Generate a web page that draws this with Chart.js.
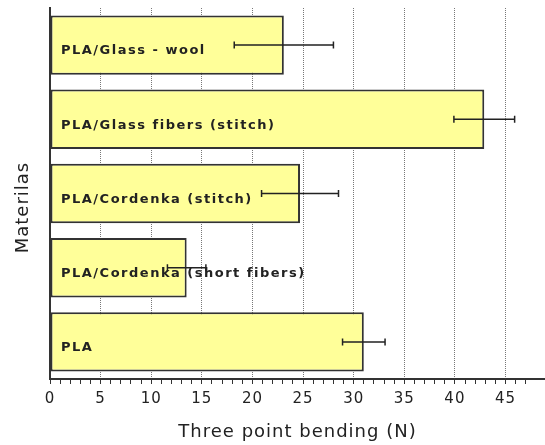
<!DOCTYPE html>
<html>
<head>
<meta charset="utf-8">
<script src="https://cdn.jsdelivr.net/npm/chart.js@4.4.0/dist/chart.umd.min.js"></script>
<style>
  html, body { margin: 0; padding: 0; background: #fff; }
  #wrap { width: 545px; height: 445px; }
</style>
</head>
<body>
<div id="wrap"><canvas id="c"></canvas></div>
<script>
// Datos
const materials = ['PLA/Glass - wool', 'PLA/Glass fibers (stitch)', 'PLA/Cordenka (stitch)', 'PLA/Cordenka (short fibers)', 'PLA'];
const bending = [23.1, 42.9, 24.7, 13.5, 31.0];
const errors  = [4.9, 3.0, 3.8, 1.9, 2.1];
const xMax = 48.9;

const INK = '#222';
const FONT = '"DejaVu Sans", Verdana, sans-serif';

// Barras de error + etiquetas dentro de las barras
const barExtras = {
  id: 'barExtras',
  beforeDraw(chart) { chart.ctx.letterSpacing = '1px'; },
  afterDatasetsDraw(chart) {
    const { ctx, scales: { x } } = chart;
    const bars = chart.getDatasetMeta(0).data;
    ctx.save();
    ctx.strokeStyle = INK;
    ctx.lineWidth = 1.5;
    bars.forEach((bar, i) => {
      const x0 = x.getPixelForValue(bending[i] - errors[i]);
      const x1 = x.getPixelForValue(bending[i] + errors[i]);
      const y = bar.y;
      ctx.beginPath();
      ctx.moveTo(x0, y); ctx.lineTo(x1, y);
      ctx.moveTo(x0, y - 3.5); ctx.lineTo(x0, y + 3.5);
      ctx.moveTo(x1, y - 3.5); ctx.lineTo(x1, y + 3.5);
      ctx.stroke();
    });
    ctx.font = 'bold 13px ' + FONT;
    ctx.letterSpacing = '1.5px';
    ctx.fillStyle = INK;
    ctx.textBaseline = 'middle';
    ctx.textAlign = 'left';
    bars.forEach((bar, i) => ctx.fillText(materials[i], x.left + 11, bar.y + 6));
    ctx.restore();
  },
  afterDraw(chart) {
    // título del eje Y, algo por debajo del centro como en el original
    const { ctx, chartArea } = chart;
    ctx.save();
    ctx.translate(23, (chartArea.top + chartArea.bottom) / 2 + 14);
    ctx.rotate(-Math.PI / 2);
    ctx.font = '18px ' + FONT;
    ctx.fillStyle = INK;
    ctx.textAlign = 'center';
    ctx.textBaseline = 'middle';
    ctx.fillText('Materilas', 0, 0);
    ctx.restore();
  }
};

new Chart(document.getElementById('c'), {
  type: 'bar',
  data: {
    labels: materials,
    datasets: [{
      data: bending,
      backgroundColor: '#ffff99',
      borderColor: '#333',
      borderWidth: 2,
      borderSkipped: false,
      barPercentage: 0.8,
      categoryPercentage: 1.0
    }]
  },
  options: {
    indexAxis: 'y',
    responsive: true,
    maintainAspectRatio: false,
    animation: false,
    layout: { padding: { top: 8, right: 0, left: 0, bottom: 0 } },
    plugins: { legend: { display: false }, tooltip: { enabled: false } },
    scales: {
      x: {
        min: 0, max: xMax,
        afterFit: s => { s.height = 66; s.paddingRight = 0; },
        ticks: {
          stepSize: 1, autoSkip: false, maxRotation: 0, padding: 6,
          color: INK, font: { family: FONT, size: 15 },
          callback: v => (v % 5 === 0 && v <= 45) ? v : ''
        },
        grid: {
          color: c => (c.tick && c.tick.value % 5 === 0 && c.tick.value > 0 && c.tick.value < xMax) ? '#777' : 'rgba(0,0,0,0)',
          lineWidth: 1,
          tickLength: 5,
          tickColor: '#333'
        },
        border: { display: true, color: '#333', width: 2, dash: [1, 1] },
        title: {
          display: true, text: 'Three point bending (N)', color: INK,
          font: { family: FONT, size: 18 }, padding: { top: 0, bottom: 2 }
        }
      },
      y: {
        afterFit: s => { s.width = 50; },
        ticks: { display: false },
        grid: { display: false },
        border: { display: true, color: '#333', width: 2 }
      }
    }
  },
  plugins: [barExtras]
});
</script>
</body>
</html>
